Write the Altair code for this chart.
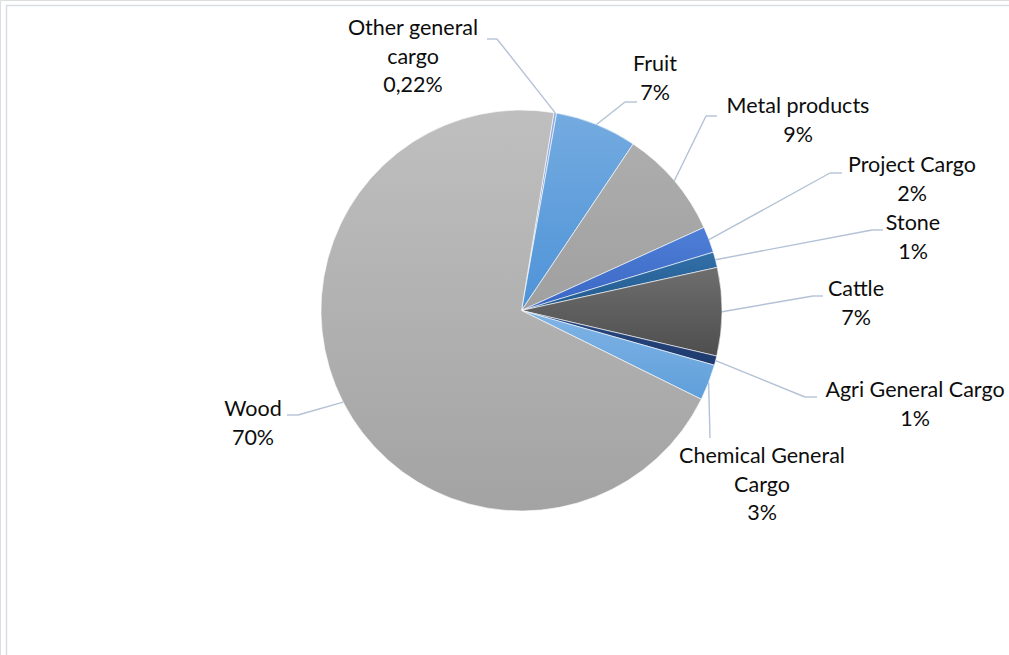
import math
import altair as alt
import pandas as pd

# ---- data ----
categories = ["Other general cargo", "Fruit", "Metal products", "Project Cargo", "Stone",
              "Cattle", "Agri General Cargo", "Chemical General Cargo", "Wood"]
values = [0.22, 6.6, 8.8, 2.1, 1.25, 7.1, 0.75, 2.9, 70.3]
label_lines = [["Other general", "cargo", "0,22%"], ["Fruit", "7%"], ["Metal products", "9%"],
               ["Project Cargo", "2%"], ["Stone", "1%"], ["Cattle", "7%"],
               ["Agri General Cargo", "1%"], ["Chemical General", "Cargo", "3%"], ["Wood", "70%"]]

# ---- layout / style ----
W, H = 1009, 655
CX, CY, R = 521.5, 310.5, 200.5
START_DEG = 9.3
label_x = [413, 655, 798, 912, 913, 856, 915, 762, 253]
label_y = [29, 65, 107, 166, 224, 290, 391, 457, 410]
elbow_x = [497, 625, 706, 830, 872, 813, 805, 710, 298]
elbow_y = [39, 102, 116, 173, 230, 296, 397, 438, 415]
end_x = [487, 637, 717, 842, 883, 823, 817, 710, 287]
grad_top = ["#95ADE0", "#74ABE0", "#ADADAD", "#4E7FD6", "#3270A8", "#6E6E6E", "#2A4A82", "#80B4E6", "#BFBFBF"]
grad_bot = ["#7F9ADA", "#4E93D8", "#A0A0A0", "#3A66C4", "#215A8E", "#4E4E4E", "#1E3A6E", "#5F9FDA", "#A3A3A3"]
LINE_H = 28.5
FONT = "Lato"
FS = 21.5

total = sum(values)
start = math.radians(START_DEG)

df = pd.DataFrame({
    "cat": categories, "value": values, "idx": list(range(len(categories))),
    "ex": elbow_x, "ey": elbow_y, "endx": end_x,
})

xs = alt.Scale(domain=[0, W], range=[0, W], nice=False, zero=False)
ys = alt.Scale(domain=[0, H], range=[0, H], nice=False, zero=False)
ts = alt.Scale(domain=[0, total], range=[start, start + 2 * math.pi], zero=False, nice=False)

base = alt.Chart(df).transform_window(
    cum="sum(value)", sort=[alt.SortField("idx")], frame=[None, 0]
).transform_calculate(
    t0="datum.cum - datum.value", t1="datum.cum"
)

layers = []
for i, c in enumerate(categories):
    grad = alt.Gradient(gradient="linear", x1=0, y1=0, x2=0, y2=1,
                        stops=[alt.GradientStop(color=grad_top[i], offset=0),
                               alt.GradientStop(color=grad_bot[i], offset=1)])
    layers.append(
        base.transform_filter(alt.datum.cat == c).mark_arc(
            outerRadius=R, fill=grad, stroke="white", strokeWidth=0.6
        ).encode(
            theta=alt.Theta("t0:Q", scale=ts),
            theta2="t1:Q",
            x=alt.value(CX), y=alt.value(CY),
        )
    )

# leader lines
lead = base.transform_calculate(
    mid=f"{start} + 2*PI*(datum.cum - datum.value/2)/{total}",
).transform_calculate(
    sx=f"{CX} + {R}*sin(datum.mid)", sy=f"{CY} - {R}*cos(datum.mid)"
)
rule1 = lead.mark_rule(color="#B3C2D6", strokeWidth=1.4).encode(
    x=alt.X("sx:Q", scale=xs, axis=None), y=alt.Y("sy:Q", scale=ys, axis=None),
    x2="ex:Q", y2="ey:Q")
rule2 = lead.mark_rule(color="#B3C2D6", strokeWidth=1.4).encode(
    x=alt.X("ex:Q", scale=xs, axis=None), y=alt.Y("ey:Q", scale=ys, axis=None),
    x2="endx:Q", y2="ey:Q")

# labels
rows = []
for i, lines in enumerate(label_lines):
    for j, t in enumerate(lines):
        rows.append({"t": t, "lx": label_x[i], "ly": label_y[i] + j * LINE_H})
lab = alt.Chart(pd.DataFrame(rows)).mark_text(
    font=FONT, fontSize=FS, color="#0d0d0d", align="center", baseline="middle"
).encode(x=alt.X("lx:Q", scale=xs, axis=None), y=alt.Y("ly:Q", scale=ys, axis=None), text="t:N")

# frame
frame = alt.Chart(pd.DataFrame({"a": [0]})).mark_rect(
    fill=None, stroke="#D9DDE3", strokeWidth=1.5
).encode(x=alt.value(6.5), x2=alt.value(W + 20), y=alt.value(5.5), y2=alt.value(H + 20))

chart = alt.layer(frame, *layers, rule1, rule2, lab).properties(
    width=W, height=H, padding=0, autosize=alt.AutoSizeParams(type="none")
).configure_view(stroke=None).configure(background="white")

chart.save("out.html", embed_options={"renderer": "svg", "actions": False})
